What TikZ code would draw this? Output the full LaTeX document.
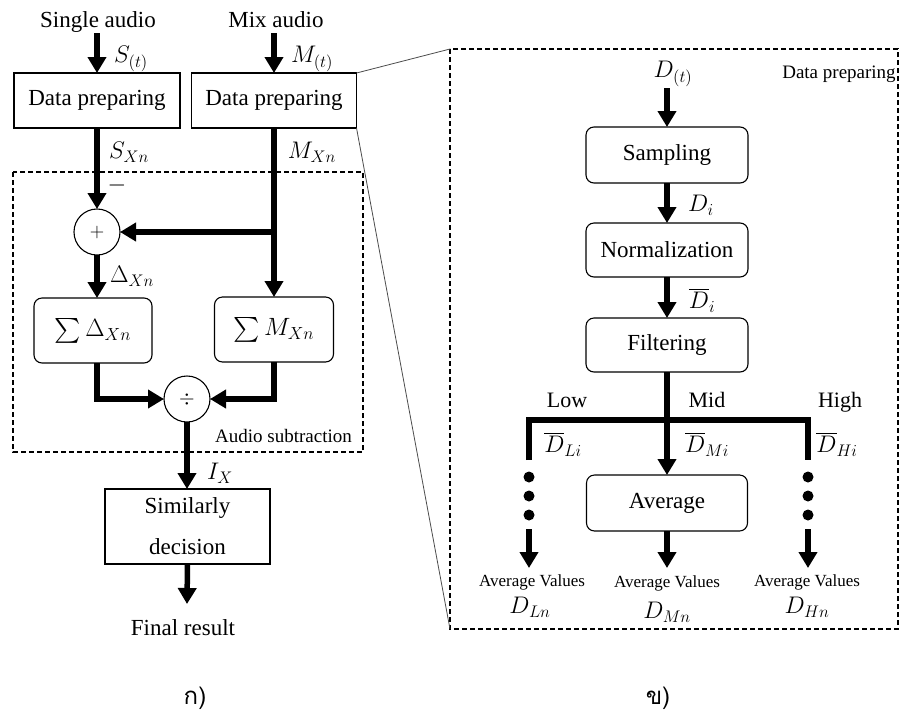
\RequirePackage{fix-cm}
\documentclass[tikz,border=0pt]{standalone}
\usepackage{amsmath}
\usepackage{fontspec}
\setmainfont{Liberation Serif}
\newfontfamily\thaifont[Script=Thai]{Loma}
\usetikzlibrary{arrows.meta}
\begin{document}
\begin{tikzpicture}[x=1pt,y=-1pt,
  every node/.style={inner sep=0pt, outer sep=0pt},
  txt/.style={font=\fontsize{23}{27}\selectfont},
  mtxt/.style={font=\fontsize{24}{28}\selectfont},
  smalltxt/.style={font=\fontsize{19}{22}\selectfont},
  tinytxt/.style={font=\fontsize{17}{20}\selectfont},
  bandtxt/.style={font=\fontsize{22}{26}\selectfont},
  thaitxt/.style={font=\thaifont\fontsize{24}{28}\selectfont},
  sqbox/.style={draw, line width=1.1pt, rectangle, font=\fontsize{23}{27}\selectfont},
  rbox/.style={draw, line width=1.1pt, rectangle, rounded corners=8pt, font=\fontsize{23}{27}\selectfont},
  circ/.style={draw, circle, line width=1.1pt, minimum size=46pt, font=\fontsize{20}{24}\selectfont},
  flow/.style={line width=5.5pt, -{Triangle[length=16pt,width=18pt]}},
  bar/.style={line width=5.5pt},
  frame/.style={line width=1.1pt, dash pattern=on 5pt off 3pt},
  zoomline/.style={line width=0.8pt, black!70},
  dot/.style={circle, fill=black, minimum size=11pt}
]
\useasboundingbox (0,0) rectangle (899,713);
\fill[white] (0,0) rectangle (899,713);

% ---------------- left panel ----------------
\node[txt, anchor=base] (inS) at (98,27) {Single audio};
\node[txt, anchor=base] (inM) at (276,27) {Mix audio};

\node[sqbox, minimum width=166pt, minimum height=55pt] (dp1) at (97,100.5) {Data preparing};
\node[sqbox, minimum width=165pt, minimum height=55pt] (dp2) at (274,100.5) {Data preparing};

\coordinate (sTop) at (97,33);
\coordinate (mTop) at (274,33);
\draw[flow] (sTop) -- (dp1.north);
\draw[flow] (mTop) -- (dp2.north);

\node[mtxt] (lSt) at (131,59) {$S_{(t)}$};
\node[mtxt] (lMt) at (312,59) {$M_{(t)}$};
\node[mtxt] (lSx) at (129,152) {$S_{Xn}$};
\node[mtxt] (lMx) at (312,152) {$M_{Xn}$};

\coordinate (asTL) at (13,172);
\coordinate (asBR) at (363,452);
\draw[frame] (asTL) rectangle (asBR);

\node[circ] (plus) at (97,232) {$+$};
\node[mtxt] (lminus) at (117,185) {$-$};
\draw[flow] (dp1.south) -- (plus.north);

\node[rbox, minimum width=118pt, minimum height=65pt, font=\fontsize{25}{29}\selectfont] (sumD) at (93,330.5) {$\sum\Delta_{Xn}$};
\node[rbox, minimum width=119pt, minimum height=65pt, font=\fontsize{25}{29}\selectfont] (sumM) at (274,329.5) {$\sum M_{Xn}$};

\coordinate (jM) at (dp2.south |- plus.east);
\draw[bar] (dp2.south) -- (jM);
\draw[flow] (jM) -- (sumM.north);
\draw[flow] (jM) -- (plus.east);
\draw[flow] (plus.south) -- (plus.south |- sumD.north);
\node[mtxt] (lDx) at (132,276) {$\Delta_{Xn}$};

\node[circ] (div) at (187,399) {$\div$};
\draw[flow] (plus.south |- sumD.south) |- (div.west);
\draw[flow] (sumM.south) |- (div.east);

\node[smalltxt, anchor=base] (lAS) at (283.5,442) {Audio subtraction};

\node[sqbox, minimum width=165pt, minimum height=75pt, align=center, font=\fontsize{23}{41}\selectfont] (sim) at (187.5,526.5) {Similarly\\decision};
\draw[flow] (div.south) -- (div.south |- sim.north);
\node[mtxt] (lIx) at (220,473) {$I_X$};

\coordinate (finTip) at (187,604);
\draw[flow] (sim.south) -- (finTip);
\node[txt, anchor=base] (fin) at (183,635) {Final result};

\node[thaitxt] (capA) at (195,698) {ก)};

% ---------------- right panel ----------------
\coordinate (frTL) at (450,49);
\coordinate (frBR) at (898,629);
\coordinate (frBL) at (450,629);
\draw[frame] (frTL) rectangle (frBR);
\draw[zoomline] (dp2.north east) -- (frTL);
\draw[zoomline] (dp2.south east) -- (frBL);

\node[smalltxt, anchor=base] (lDP) at (839,78) {Data preparing};
\node[mtxt] (lDt) at (673,74) {$D_{(t)}$};

\node[rbox, minimum width=162pt, minimum height=56pt] (samp) at (667,155) {Sampling};
\node[rbox, minimum width=162pt, minimum height=54pt] (norm) at (667,250) {Normalization};
\node[rbox, minimum width=162pt, minimum height=54pt] (filt) at (667,345) {Filtering};
\node[rbox, minimum width=161pt, minimum height=56pt] (avg) at (667,503) {Average};

\coordinate (dTop) at (667,88);
\draw[flow] (dTop) -- (samp.north);
\draw[flow] (samp.south) -- (norm.north);
\draw[flow] (norm.south) -- (filt.north);
\node[mtxt] (lDi) at (701,205) {$D_i$};
\node[mtxt] (lDbi) at (702,300) {$\overline{D}_i$};

\coordinate (lowEnd) at (529,460);
\coordinate (lowTop) at (529,420);
\coordinate (highTop) at (808,420);
\coordinate (highEnd) at (808,460);
\draw[bar] (lowEnd) -- (lowTop) -- (highTop) -- (highEnd);
\draw[flow] (filt.south) -- (avg.north);

\node[bandtxt, anchor=base] (lLow) at (567,407) {Low};
\node[bandtxt, anchor=base] (lMid) at (707,407) {Mid};
\node[bandtxt, anchor=base] (lHigh) at (840,407) {High};

\node[mtxt] (lDLi) at (563,444) {$\overline{D}_{Li}$};
\node[mtxt] (lDMi) at (707,444) {$\overline{D}_{Mi}$};
\node[mtxt] (lDHi) at (837,444) {$\overline{D}_{Hi}$};

\node[dot] (dl1) at (529,477) {};
\node[dot] (dl2) at (529,496) {};
\node[dot] (dl3) at (529,515) {};
\node[dot] (dh1) at (808,477) {};
\node[dot] (dh2) at (808,496) {};
\node[dot] (dh3) at (808,515) {};

\coordinate (lowA) at (529,529);
\coordinate (lowB) at (529,568);
\coordinate (midB) at (667,568);
\coordinate (highA) at (808,529);
\coordinate (highB) at (808,568);
\draw[flow] (lowA) -- (lowB);
\draw[flow] (avg.south) -- (midB);
\draw[flow] (highA) -- (highB);

\node[tinytxt, anchor=base] (avL) at (532,586) {Average Values};
\node[tinytxt, anchor=base] (avM) at (667,587) {Average Values};
\node[tinytxt, anchor=base] (avH) at (807,586) {Average Values};
\node[mtxt] (lDLn) at (530,607) {$D_{Ln}$};
\node[mtxt] (lDMn) at (667,612) {$D_{Mn}$};
\node[mtxt] (lDHn) at (807,607) {$D_{Hn}$};

\node[thaitxt] (capB) at (658,698) {ข)};
\end{tikzpicture}
\end{document}
